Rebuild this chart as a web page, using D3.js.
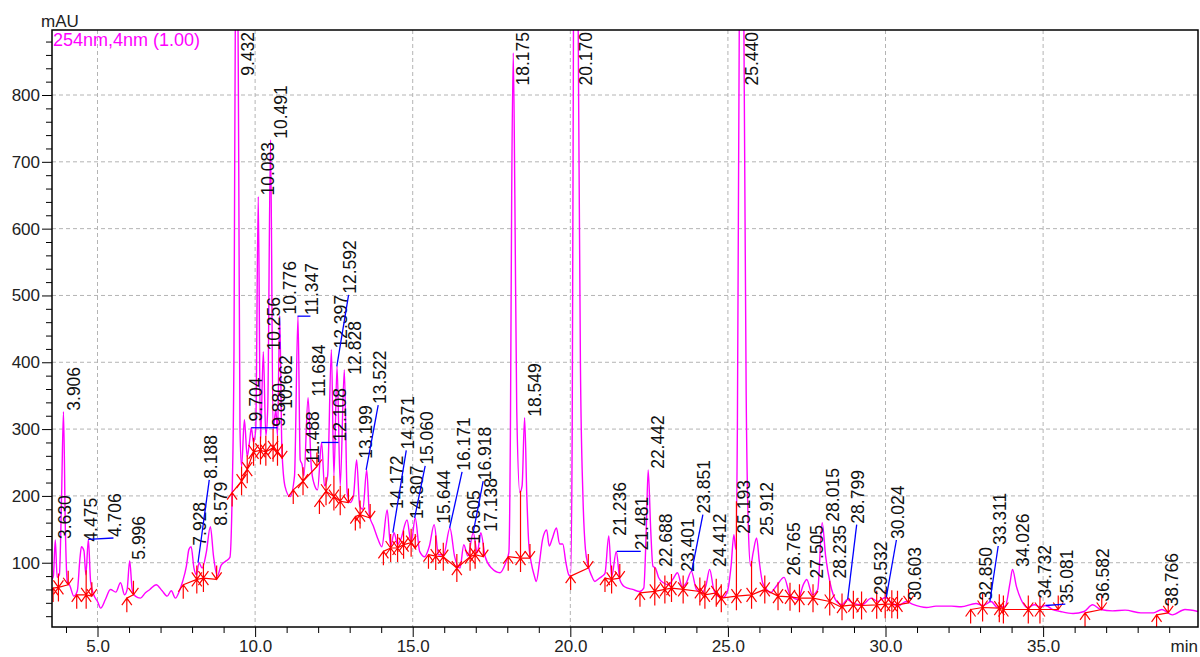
<!DOCTYPE html>
<html>
<head>
<meta charset="utf-8">
<script src="https://cdn.jsdelivr.net/npm/d3@7"></script>
<style>
    body { margin: 0; background: #ffffff; }
    svg { display: block; font-family: "Liberation Sans", Arial, sans-serif; }
</style>
</head>
<body>
<svg id="chromatogram"></svg>
<script>
// detector trace, [min, mAU]
var trace = [
    [3.556, 75], [3.60, 80], [3.66, 134], [3.72, 78], [3.79, 82], [3.86, 200], [3.92, 326], [3.98, 150],
    [4.04, 72], [4.12, 66], [4.25, 50], [4.36, 58], [4.44, 105], [4.49, 124], [4.57, 118], [4.63, 82],
    [4.71, 135], [4.78, 72], [4.88, 52], [5.00, 42], [5.10, 32], [5.25, 45], [5.41, 60], [5.58, 56],
    [5.73, 70], [5.86, 52], [5.94, 60], [6.02, 103], [6.10, 60], [6.20, 50], [6.36, 47], [6.52, 55],
    [6.66, 60], [6.86, 67], [7.05, 58], [7.21, 50], [7.34, 58], [7.47, 47], [7.60, 58], [7.70, 72],
    [7.82, 95], [7.90, 120], [7.97, 124], [8.06, 92], [8.14, 82], [8.22, 100], [8.32, 92], [8.45, 115],
    [8.58, 154], [8.68, 110], [8.80, 80], [8.92, 96], [9.06, 102], [9.20, 108], [9.27, 199], [9.33, 420],
    [9.38, 1000], [9.43, 1100], [9.48, 700], [9.52, 300], [9.57, 244], [9.66, 314], [9.75, 259], [9.82, 280],
    [9.88, 302], [9.95, 280], [10.02, 300], [10.10, 648], [10.17, 280], [10.26, 416], [10.34, 290], [10.40, 330],
    [10.49, 733], [10.57, 300], [10.66, 329], [10.71, 290], [10.78, 470], [10.85, 270], [10.95, 214], [11.11, 199],
    [11.25, 230], [11.36, 469], [11.43, 254], [11.49, 247], [11.55, 230], [11.68, 347], [11.78, 245], [11.86, 220],
    [11.98, 209], [12.11, 280], [12.20, 215], [12.30, 230], [12.42, 419], [12.50, 230], [12.60, 394], [12.70, 215],
    [12.83, 389], [12.92, 205], [13.02, 190], [13.12, 200], [13.22, 254], [13.32, 185], [13.42, 180], [13.54, 239],
    [13.63, 170], [13.75, 155], [13.90, 135], [14.02, 124], [14.19, 179], [14.30, 124], [14.41, 145], [14.52, 127],
    [14.62, 135], [14.82, 164], [14.95, 130], [15.08, 167], [15.22, 117], [15.38, 109], [15.53, 125], [15.68, 157],
    [15.82, 112], [15.98, 112], [16.18, 152], [16.33, 109], [16.50, 92], [16.62, 127], [16.75, 110], [16.92, 145],
    [17.05, 115], [17.16, 145], [17.30, 109], [17.50, 92], [17.77, 85], [17.95, 100], [18.05, 115], [18.10, 300],
    [18.14, 650], [18.19, 863], [18.24, 650], [18.30, 330], [18.40, 205], [18.47, 215], [18.55, 317], [18.62, 200],
    [18.68, 130], [18.76, 100], [18.85, 82], [18.92, 72], [19.02, 100], [19.12, 135], [19.25, 149], [19.33, 125],
    [19.42, 135], [19.56, 152], [19.66, 128], [19.76, 128], [19.86, 100], [19.95, 82], [20.01, 80], [20.06, 300],
    [20.10, 900], [20.17, 1400], [20.25, 900], [20.32, 400], [20.40, 200], [20.48, 120], [20.57, 95], [20.68, 80],
    [20.78, 72], [20.90, 76], [21.02, 80], [21.10, 84], [21.22, 140], [21.31, 79], [21.46, 117], [21.57, 75],
    [21.72, 64], [21.98, 60], [22.20, 57], [22.33, 62], [22.41, 150], [22.47, 239], [22.55, 150], [22.62, 95],
    [22.70, 92], [22.80, 78], [22.95, 70], [23.12, 67], [23.25, 75], [23.40, 85], [23.55, 64], [23.68, 70],
    [23.84, 87], [24.00, 60], [24.15, 55], [24.30, 65], [24.42, 90], [24.55, 60], [24.68, 50], [24.85, 48],
    [25.00, 60], [25.10, 95], [25.19, 142], [25.25, 120], [25.30, 300], [25.36, 900], [25.44, 1300], [25.52, 800],
    [25.58, 350], [25.65, 150], [25.72, 95], [25.80, 115], [25.91, 137], [26.00, 100], [26.10, 70], [26.20, 62],
    [26.35, 55], [26.55, 66], [26.78, 78], [26.97, 52], [27.22, 45], [27.40, 68], [27.50, 75], [27.68, 52],
    [27.85, 60], [27.99, 160], [28.10, 110], [28.24, 70], [28.45, 42], [28.62, 37], [28.79, 45], [28.95, 40],
    [29.25, 37], [29.55, 47], [29.75, 42], [30.00, 48], [30.20, 40], [30.40, 35], [30.65, 42], [30.85, 38],
    [31.30, 33], [31.60, 35], [32.10, 35], [32.40, 34], [32.87, 39], [33.10, 36], [33.35, 42], [33.55, 33],
    [33.80, 35], [33.95, 70], [34.03, 90], [34.15, 65], [34.30, 45], [34.50, 33], [34.73, 37], [34.90, 34],
    [35.08, 36], [35.30, 30], [35.55, 27], [35.95, 24], [36.30, 27], [36.57, 37], [36.83, 30], [37.20, 28],
    [37.60, 29], [38.10, 25], [38.50, 25], [38.77, 30], [39.10, 22], [39.50, 30], [39.914, 27]
]

// peak retention times (labels) and the height where each label sits
var peakNames = ["3.630", "3.906", "4.475", "4.706", "5.996", "7.928", "8.188", "8.579", "9.432", "9.704",
    "9.880", "10.083", "10.256", "10.491", "10.662", "10.776", "11.347", "11.488", "11.684", "12.108",
    "12.397", "12.592", "12.828", "13.199", "13.522", "14.172", "14.371", "14.807", "15.060", "15.644",
    "16.171", "16.605", "16.918", "17.138", "18.175", "18.549", "20.170", "21.236", "21.481", "22.442",
    "22.688", "23.401", "23.851", "24.412", "25.193", "25.440", "25.912", "26.765", "27.505", "28.015",
    "28.235", "28.799", "29.532", "30.024", "30.603", "32.850", "33.311", "34.026", "34.732", "35.081",
    "36.582", "38.766"]
var peakTops = [134, 326, 130, 135, 103, 124, 100, 154, 1100, 310,
    302, 648, 416, 733, 329, 470, 469, 247, 347, 280,
    419, 394, 380, 254, 239, 179, 145, 164, 167, 157,
    152, 127, 145, 145, 863, 317, 1400, 139, 117, 239,
    92, 85, 87, 92, 142, 1300, 139, 79, 75, 160,
    75, 45, 50, 48, 42, 42, 42, 92, 45, 36,
    40, 33]

// labels moved off their peak, joined back by a blue line: [min, mAU] of label foot
var labelMoves = {
    "4.706": [5.22, 137],
    "8.188": [8.26, 224],
    "9.880": [10.42, 302],
    "11.347": [11.47, 469],
    "12.108": [12.36, 280],
    "12.592": [12.68, 501],
    "13.522": [13.62, 336],
    "14.371": [14.51, 268],
    "15.060": [15.11, 245],
    "16.171": [16.28, 236],
    "16.918": [16.95, 222],
    "21.481": [21.95, 117],
    "23.851": [23.92, 172],
    "28.799": [28.80, 157],
    "30.024": [30.06, 134],
    "33.311": [33.29, 125],
    "35.081": [35.42, 38]
}

// integration baselines
var baselines = [
    [[3.59, 62], [3.76, 63], [4.07, 67]],
    [[4.34, 52], [4.64, 52], [4.82, 50]],
    [[5.93, 47], [6.14, 52]],
    [[7.72, 67], [8.15, 75], [8.36, 77], [8.78, 75]],
    [[9.27, 205], [9.57, 222], [9.75, 240], [9.95, 266], [10.17, 268], [10.34, 266], [10.57, 272], [10.71, 266], [10.86, 257]],
    [[11.21, 209], [11.52, 222], [11.96, 244]],
    [[12.04, 194], [12.25, 207], [12.50, 199], [12.70, 192], [12.96, 190]],
    [[13.18, 169], [13.33, 172], [13.65, 167]],
    [[14.07, 117], [14.30, 122], [14.52, 122], [14.71, 127], [14.95, 130], [15.08, 122]],
    [[15.50, 112], [15.73, 110], [15.97, 109], [16.40, 92], [16.82, 109], [16.98, 112], [17.24, 109]],
    [[18.03, 109], [18.42, 107], [18.72, 107]],
    [[20.01, 80], [20.57, 92]],
    [[21.10, 77], [21.31, 75], [21.57, 77]],
    [[22.21, 55], [22.68, 57], [23.00, 60], [23.21, 62], [23.58, 60], [24.11, 57], [24.27, 52], [24.63, 55],
     [24.79, 47], [25.27, 50], [25.75, 52], [26.17, 60], [26.59, 50], [26.97, 49], [27.27, 47], [27.70, 47],
     [28.23, 42], [28.62, 33]],
    [[28.62, 35], [28.98, 37], [29.24, 36], [29.72, 37], [29.99, 38], [30.20, 38], [30.38, 37], [30.73, 40]],
    [[32.70, 30], [33.08, 33], [33.61, 32], [33.74, 30], [34.53, 30], [34.90, 30], [35.48, 30]],
    [[36.33, 25], [36.86, 30]],
    [[38.60, 22], [38.97, 25]]
]

var xMajor = [5, 10, 15, 20, 25, 30, 35]
var yMajor = [100, 200, 300, 400, 500, 600, 700, 800]

var dimensions = {
    width: 1200,
    height: 657,
    margin: { top: 30, bottom: 30, right: 2, left: 52 }
}
var plotRight = dimensions.width - dimensions.margin.right
var plotBottom = dimensions.height - dimensions.margin.bottom

var svg = d3.select("#chromatogram")
    .attr("width", dimensions.width)
    .attr("height", dimensions.height)

var xScale = d3.scaleLinear()
    .domain([3.556, 39.914])
    .range([dimensions.margin.left, plotRight])

var yScale = d3.scaleLinear()
    .domain([3.8, 897.3])
    .range([plotBottom, dimensions.margin.top])

svg.append("defs").append("clipPath")
    .attr("id", "plot-clip")
    .append("rect")
    .attr("x", dimensions.margin.left)
    .attr("y", dimensions.margin.top)
    .attr("width", plotRight - dimensions.margin.left)
    .attr("height", plotBottom - dimensions.margin.top)

// grid
svg.append("g")
    .selectAll("line")
    .data(xMajor)
    .enter()
    .append("line")
    .attr("x1", d => xScale(d))
    .attr("x2", d => xScale(d))
    .attr("y1", dimensions.margin.top)
    .attr("y2", plotBottom)
    .attr("stroke", "#b4b4b4")
    .attr("stroke-dasharray", "4,3")

svg.append("g")
    .selectAll("line")
    .data(yMajor)
    .enter()
    .append("line")
    .attr("x1", dimensions.margin.left)
    .attr("x2", plotRight)
    .attr("y1", d => yScale(d))
    .attr("y2", d => yScale(d))
    .attr("stroke", "#b4b4b4")
    .attr("stroke-dasharray", "4,3")

var plot = svg.append("g").attr("clip-path", "url(#plot-clip)")

// trace
var line = d3.line()
    .x(d => xScale(d[0]))
    .y(d => yScale(d[1]))
    .curve(d3.curveMonotoneX)

plot.append("path")
    .datum(trace)
    .attr("d", line)
    .attr("fill", "none")
    .attr("stroke", "#ff00ff")
    .attr("stroke-width", 1.4)

function traceAt(t) {
    var i = d3.bisector(d => d[0]).left(trace, t)
    if (i <= 0) return trace[0][1]
    if (i >= trace.length) return trace[trace.length - 1][1]
    var a = trace[i - 1], b = trace[i]
    return a[1] + (b[1] - a[1]) * (t - a[0]) / (b[0] - a[0])
}

// baselines, drop lines, start/end marks
var red = plot.append("g")
    .attr("stroke", "#ff0000")
    .attr("stroke-width", 1.2)
    .attr("fill", "none")

baselines.forEach(function (seg) {
    red.append("path")
        .datum(seg)
        .attr("d", d3.line().x(d => xScale(d[0])).y(d => yScale(d[1])))

    seg.forEach(function (p, i) {
        var px = xScale(p[0]), py = yScale(p[1])
        var d = ""
        if (i > 0 && i < seg.length - 1) {
            var top = traceAt(p[0])
            if (top > p[1]) {
                d += "M" + px + "," + py + "L" + px + "," + yScale(top)
            }
        }
        if (i < seg.length - 1) {
            d += "M" + px + "," + py + "L" + px + "," + (py + 14)
            d += "M" + (px - 5) + "," + (py + 7) + "L" + px + "," + py + "L" + (px + 5) + "," + (py + 7)
        }
        if (i > 0) {
            d += "M" + px + "," + py + "L" + px + "," + (py - 14)
            d += "M" + (px - 5) + "," + (py - 7) + "L" + px + "," + py + "L" + (px + 5) + "," + (py - 7)
        }
        red.append("path").attr("d", d)
    })
})

// peak labels
var labels = svg.append("g")
    .attr("font-size", "17.5px")
    .attr("fill", "#111111")

peakNames.forEach(function (name, i) {
    var t = +name
    var v = peakTops[i]
    var mv = labelMoves[name]
    var lt = mv ? mv[0] : t
    var lv = mv ? mv[1] : v

    if (mv) {
        svg.append("line")
            .attr("x1", xScale(t))
            .attr("y1", yScale(v))
            .attr("x2", xScale(lt) + 9)
            .attr("y2", yScale(lv))
            .attr("stroke", "#0000ff")
            .attr("stroke-width", 1.3)
    }

    var txt = labels.append("text").text(name)
    var len = txt.node().getComputedTextLength()
    var ly = Math.max(yScale(lv) - 1, dimensions.margin.top + len + 2)
    txt.attr("transform", "translate(" + (xScale(lt) + 16.5) + "," + ly + ") rotate(-90)")
})

// axes
var xAxis = d3.axisBottom(xScale)
    .tickValues(xMajor)
    .tickSize(10)
    .tickPadding(3)
    .tickFormat(d3.format(".1f"))

var xMinor = d3.axisBottom(xScale)
    .tickValues(d3.range(4, 40).filter(d => d % 5 != 0))
    .tickSize(6)
    .tickFormat("")

var yAxis = d3.axisLeft(yScale)
    .tickValues(yMajor)
    .tickSize(10)
    .tickPadding(2)

var yMinor = d3.axisLeft(yScale)
    .tickValues(d3.range(20, 897, 20).filter(d => d % 100 != 0))
    .tickSize(6)
    .tickFormat("")

;[xAxis, xMinor].forEach(function (ax) {
    svg.append("g")
        .attr("class", "x-axis")
        .attr("transform", "translate(0," + plotBottom + ")")
        .call(ax)
})
;[yAxis, yMinor].forEach(function (ax) {
    svg.append("g")
        .attr("class", "y-axis")
        .attr("transform", "translate(" + dimensions.margin.left + ",0)")
        .call(ax)
})

svg.selectAll(".x-axis .domain, .y-axis .domain").remove()
svg.selectAll(".x-axis text, .y-axis text")
    .style("font", "17px 'Liberation Sans', Arial, sans-serif")
    .attr("fill", "#222222")
svg.selectAll(".x-axis line, .y-axis line").attr("stroke", "#000000")

// frame
svg.append("rect")
    .attr("x", dimensions.margin.left)
    .attr("y", dimensions.margin.top)
    .attr("width", plotRight - dimensions.margin.left)
    .attr("height", plotBottom - dimensions.margin.top)
    .attr("fill", "none")
    .attr("stroke", "#000000")
    .attr("stroke-width", 1.5)

svg.append("text")
    .attr("x", 41)
    .attr("y", 27)
    .attr("font-size", "17px")
    .attr("fill", "#222222")
    .text("mAU")

svg.append("text")
    .attr("x", plotRight)
    .attr("y", 652)
    .attr("text-anchor", "end")
    .attr("font-size", "17px")
    .attr("fill", "#222222")
    .text("min")

svg.append("text")
    .attr("x", 53)
    .attr("y", 46)
    .attr("font-size", "18px")
    .attr("fill", "#ff00ff")
    .text("254nm,4nm (1.00)")
</script>
</body>
</html>
